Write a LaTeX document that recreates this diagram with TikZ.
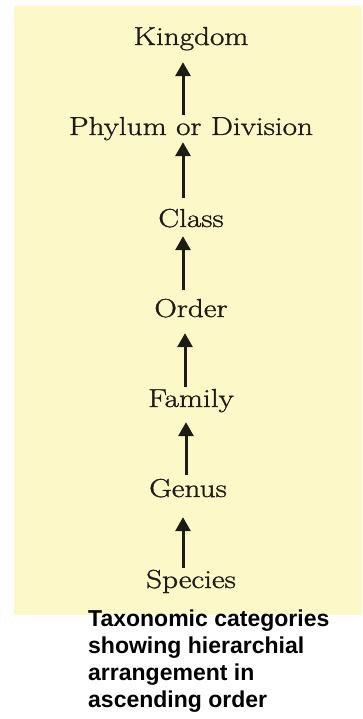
\documentclass[tikz,border=0pt]{standalone}
\usepackage{fontspec}
\newfontfamily\captionfont{Liberation Sans}
\newfontfamily\rankfont{Latin Modern Roman}[FakeStretch=1.2, FakeBold=1.2]
\usetikzlibrary{arrows.meta}
\definecolor{paper}{HTML}{FDF8C8}
\definecolor{ink}{HTML}{1E1A16}

\begin{document}
\begin{tikzpicture}[
      x=1pt, y=-1pt,
      rank/.style={inner sep=0pt, text height=17pt, text depth=0pt, text=ink,
                   font=\rankfont\fontsize{26}{30}\selectfont},
      arr/.style={-{Triangle[width=15pt, length=14pt]}, line width=3pt, ink}
    ]
      \useasboundingbox (0,0) rectangle (362,719);
      \fill[paper] (14,6) rectangle (362,615);
      \node[rank, anchor=base] (kingdom) at (191,45) {Kingdom};
      \node[rank, anchor=base] (phylum) at (191,135) {Phylum or Division};
      \node[rank, anchor=base] (class) at (191,227) {Class};
      \node[rank, anchor=base] (order) at (191,317) {Order};
      \node[rank, anchor=base] (family) at (191,407) {Family};
      \node[rank, anchor=base] (genus) at (188,497) {Genus};
      \node[rank, anchor=base] (species) at (191,588) {Species};
      \draw[arr, shorten <=3pt, shorten >=17pt] ([xshift=-8pt]phylum.north) -- ([xshift=-8pt]kingdom.south);
      \draw[arr, shorten <=12pt, shorten >=7pt] ([xshift=-8pt]class.north) -- ([xshift=-8pt]phylum.south);
      \draw[arr, shorten <=10pt, shorten >=9pt] ([xshift=-8pt]order.north) -- ([xshift=-8pt]class.south);
      \draw[arr, shorten <=3pt, shorten >=16pt] ([xshift=-6pt]family.north) -- ([xshift=-6pt]order.south);
      \draw[arr, shorten <=5pt, shorten >=15pt] ([xshift=-2pt]genus.north) -- ([xshift=-5pt]family.south);
      \draw[arr, shorten <=3pt, shorten >=20pt] ([xshift=-8pt]species.north) -- ([xshift=-5pt]genus.south);
      \node[anchor=north west, inner sep=0pt, align=left, text=black,
            font=\captionfont\bfseries\fontsize{23}{27}\selectfont] (caption) at (88,610)
        {Taxonomic categories\\showing hierarchial\\arrangement in\\ascending order};
    \end{tikzpicture}
\end{document}
